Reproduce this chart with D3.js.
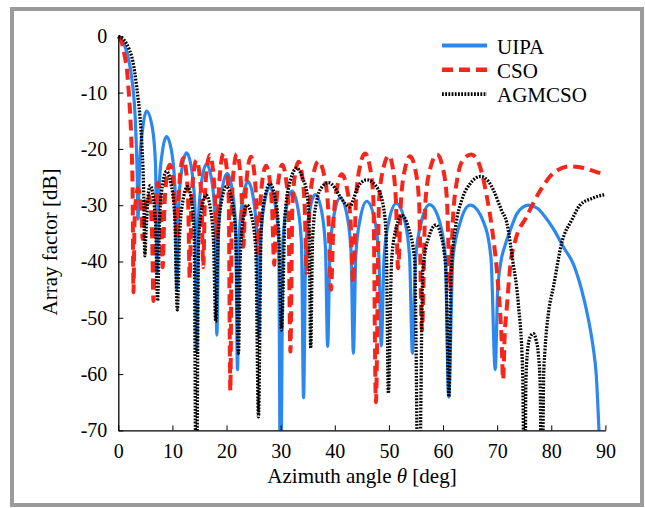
<!DOCTYPE html>
<html>
<head>
<meta charset="utf-8">
<script src="https://cdn.jsdelivr.net/npm/d3@7"></script>
<style>
  body { margin: 0; background: #fff; }
  svg { display: block; }
  text { font-family: "Liberation Serif", "Times New Roman", serif; fill: #000; }
</style>
</head>
<body>
<svg id="chart" width="645" height="508"></svg>
<script>
// axis ticks
const xTicks = [0, 10, 20, 30, 40, 50, 60, 70, 80, 90]
const yTicks = [0, -10, -20, -30, -40, -50, -60, -70]
const yTickLabels = ['0', '-10', '-20', '-30', '-40', '-50', '-60', '-70']
const seriesNames = ['UIPA', 'CSO', 'AGMCSO']

// [azimuth deg, array factor dB]
const uipa = [
  [0, 0], [1, -1.2], [2, -4.5], [2.5, -7.5], [2.8, -10], [3.1, -14], [3.35, -20], [3.52, -26], [3.62, -32.5],
  [3.94, -22.8], [4.52, -16.3], [5.2, -13.3], [6.3, -16.3], [6.88, -22.8], [7.2, -42],
  [7.52, -27.3], [8.1, -20.8], [8.9, -17.8], [9.91, -20.8], [10.49, -27.3], [10.81, -45],
  [11.14, -30.2], [11.73, -23.7], [12.6, -20.7], [13.56, -23.7], [14.15, -30.2], [14.48, -56],
  [14.82, -32.2], [15.41, -25.7], [16.3, -22.7], [17.28, -25.7], [17.87, -32.2], [18.21, -53.1],
  [18.55, -33.9], [19.16, -27.4], [20.1, -24.4], [21.07, -27.4], [21.68, -33.9], [22.02, -59.2],
  [22.37, -35.3], [23.0, -28.8], [23.95, -25.8], [24.96, -28.8], [25.59, -35.3], [25.94, -53.4],
  [26.31, -36.3], [26.96, -29.8], [27.95, -26.8], [28.98, -29.8], [29.63, -36.3], [30.0, -90],
  [30.38, -37], [31.06, -30.5], [32.1, -27.5], [33.17, -30.5], [33.85, -37], [34.23, -64.2],
  [34.63, -37.6], [35.34, -31.1], [36.4, -28.1], [37.57, -31.1], [38.28, -37.6], [38.68, -55.1],
  [39.11, -38.2], [39.87, -31.7], [41.0, -28.7], [42.24, -31.7], [43.0, -38.2], [43.43, -56.3],
  [43.89, -38.8], [44.72, -32.3], [45.9, -29.3], [47.3, -32.3], [48.13, -38.8], [48.59, -55],
  [49.11, -39.2], [50.03, -32.7], [51.35, -29.7], [52.9, -32.7], [53.82, -39.2], [54.34, -56.3],
  [54.94, -39.4], [56.02, -32.9], [57.5, -29.9], [59.36, -32.9], [60.44, -39.4], [61.04, -64.1],
  [61.81, -39.5], [63.19, -33], [65.0, -30], [67.49, -33], [68.87, -39.5], [69.64, -59.2],
  [70.1, -45], [70.7, -40], [71.5, -37], [72.4, -34.5], [73.8, -31.3], [75.8, -30], [77.5, -30.6],
  [78.8, -32], [80.4, -34.2], [82.3, -37.5], [84.1, -40.5], [85.6, -45], [86.8, -50], [87.7, -55],
  [88.3, -60], [88.9, -72]
]

const cso = [
  [0, 0], [0.6, -1], [1.2, -3.6], [1.6, -6], [1.9, -9.5], [2.2, -14], [2.45, -19.6], [2.65, -28], [2.8, -45.5],
  [3.0, -33], [3.31, -28.5], [3.65, -27], [3.99, -28.5], [4.3, -32], [4.5, -36],
  [4.74, -33], [5.1, -29.2], [5.5, -28], [5.9, -29.5], [6.26, -36], [6.5, -47],
  [6.7, -34], [7.0, -28], [7.35, -26], [7.7, -28], [8.0, -34], [8.2, -41],
  [8.51, -30.8], [8.98, -24.8], [9.5, -22.8], [10.02, -24.8], [10.49, -30.8], [10.8, -36],
  [11.09, -29.6], [11.52, -23.6], [12.0, -21.6], [12.48, -23.6], [12.91, -29.6], [13.2, -43],
  [13.5, -30], [13.95, -24], [14.45, -22], [14.95, -24], [15.4, -30], [15.7, -41],
  [15.99, -29.1], [16.42, -23.1], [16.9, -21.1], [17.42, -23.1], [17.89, -29.1], [18.2, -36],
  [18.5, -28.8], [18.95, -22.8], [19.45, -20.8], [19.95, -22.8], [20.4, -28.8], [20.7, -63],
  [20.99, -28.9], [21.42, -22.9], [21.9, -20.9], [22.38, -22.9], [22.81, -28.9], [23.1, -37.4],
  [23.44, -29.4], [23.94, -23.4], [24.5, -21.4], [25.02, -23.4], [25.49, -29.4], [25.8, -38.5],
  [26.16, -31], [26.7, -25], [27.3, -23], [27.9, -25], [28.44, -31], [28.8, -40.6],
  [29.16, -30.8], [29.7, -24.8], [30.3, -22.8], [30.9, -24.8], [31.44, -30.8], [31.8, -56],
  [32.16, -30.3], [32.7, -24.3], [33.3, -22.3], [33.9, -24.3], [34.44, -30.3], [34.8, -42],
  [35.33, -30.2], [36.12, -24.2], [37.0, -22.2], [37.92, -24.2], [38.75, -30.2], [39.3, -45],
  [39.78, -32.5], [40.5, -26.5], [41.3, -24.5], [42.14, -26.5], [42.9, -32.5], [43.4, -43.8],
  [43.93, -28.8], [44.72, -22.8], [45.6, -20.8], [46.4, -22.8], [47.12, -28.8], [47.6, -65],
  [48.18, -29.2], [49.04, -23.2], [50.0, -21.2], [50.68, -23.2], [51.29, -29.2], [51.7, -41.2],
  [52.23, -29.3], [53.02, -23.3], [53.9, -21.3], [54.78, -23.3], [55.57, -29.3], [56.1, -52.2],
  [56.77, -29], [57.78, -23], [58.9, -21], [59.86, -23], [60.72, -29], [61.3, -45],
  [61.8, -33], [62.6, -25.5], [63.8, -21.8], [65.2, -21], [66.5, -22.3], [68.1, -28.5], [69.0, -33.8],
  [70.2, -44.5], [70.8, -53.4], [71.1, -61],
  [71.4, -53], [71.8, -48], [72.4, -41], [73.5, -35.8], [75.3, -32.3], [77.9, -27.5], [80.4, -24.3],
  [83.5, -23.1], [86, -23.4], [88, -24], [90, -24.6]
]

const agmcso = [
  [0, 0], [1, -0.6], [2, -2.3], [2.7, -4.5], [3.4, -9], [4.0, -14.3], [4.4, -20], [4.7, -28], [4.9, -39],
  [5.14, -34.5], [5.5, -28.5], [5.9, -26.5], [6.44, -28.5], [6.93, -34.5], [7.25, -47],
  [7.65, -32], [8.24, -26], [8.9, -24], [9.7, -26], [10.42, -32], [10.9, -48.6],
  [11.36, -34.7], [12.04, -28.7], [12.8, -26.7], [13.44, -28.7], [14.02, -34.7], [14.4, -90],
  [14.84, -36.2], [15.51, -30.2], [16.25, -28.2], [16.95, -30.2], [17.58, -36.2], [18.0, -50.7],
  [18.48, -34.7], [19.2, -28.7], [20.0, -26.7], [20.88, -28.7], [21.67, -34.7], [22.2, -56.3],
  [22.58, -38], [23.16, -32], [23.8, -30], [24.64, -32], [25.4, -38], [25.9, -67.6],
  [26.4, -34.2], [27.16, -28.2], [28.0, -26.2], [28.86, -28.2], [29.63, -34.2], [30.15, -52.2],
  [30.83, -31.4], [31.86, -25.4], [33.0, -23.4], [34.12, -25.4], [34.8, -27.5], [35.25, -33], [35.55, -55.4],
  [35.9, -36], [36.6, -29.5], [37.6, -26.8], [38.8, -26], [40.0, -26.9], [41.0, -28.5], [42.8, -30.3],
  [43.5, -28.8], [44.3, -26.7], [45.9, -25.5], [47.7, -26.7], [49.0, -30.3], [49.5, -36], [49.9, -63.4],
  [50.5, -39.8], [51.4, -33.8], [52.4, -31.8], [53.54, -33.8], [54.76, -39.8], [55.5, -90],
  [56.27, -41.5], [57.42, -35.5], [58.7, -33.5], [59.66, -35.5], [60.52, -41.5], [61.1, -64],
  [61.5, -42], [62.3, -34], [63.5, -29], [65.0, -26.2], [66.9, -24.9], [68.5, -25.9], [69.3, -27.3],
  [70.8, -30.9], [71.8, -33.2], [72.9, -40], [73.9, -47.4], [74.7, -59.3], [75.1, -90],
  [75.3, -62], [75.6, -56], [76.1, -53.4], [76.7, -52.8], [77.2, -54], [77.6, -56.3], [77.95, -62], [78.25, -90],
  [78.6, -60], [78.8, -56.3], [79.5, -49], [80.4, -44.5], [81.9, -36.8], [83.8, -32.6], [85.3, -30],
  [87.5, -28.8], [90, -28.1]
]

const serif = '"Liberation Serif", "Times New Roman", serif'
const svg = d3.select('#chart')

// grey frame round the figure
svg.append('rect')
  .attr('x', 12).attr('y', 9)
  .attr('width', 630).attr('height', 496)
  .attr('fill', 'none')
  .attr('stroke', '#9b9b9b')
  .attr('stroke-width', 4)

const x = d3.scaleLinear().domain([0, 90]).range([118.3, 605.4])
const y = d3.scaleLinear().domain([-70, 0]).range([430.4, 36.3])

svg.append('clipPath').attr('id', 'plot-clip')
  .append('rect')
  .attr('x', 116).attr('y', 28)
  .attr('width', 492).attr('height', 402.4)

const line = d3.line()
  .x(d => x(d[0]))
  .y(d => y(d[1]))
  .curve(d3.curveMonotoneX)

const styles = [
  { data: uipa, color: '#2c87ef', width: 3.2, dash: null },
  { data: cso, color: '#f7261b', width: 4, dash: '11,6' },
  { data: agmcso, color: '#000', width: 3.3, dash: '1.8,1.4' }
]

const plot = svg.append('g').attr('clip-path', 'url(#plot-clip)')
styles.forEach(s => {
  plot.append('path')
    .datum(s.data)
    .attr('d', line)
    .attr('fill', 'none')
    .attr('stroke', s.color)
    .attr('stroke-width', s.width)
    .attr('stroke-dasharray', s.dash)
})

// axes, ticks point inwards
const xAxis = svg.append('g')
  .attr('transform', 'translate(0,' + y(-70) + ')')
  .call(d3.axisBottom(x).tickValues(xTicks).tickSizeInner(-5).tickSizeOuter(0).tickPadding(13))
const yAxis = svg.append('g')
  .attr('transform', 'translate(' + x(0) + ',0)')
  .call(d3.axisLeft(y).tickValues(yTicks).tickSizeInner(-5).tickSizeOuter(0).tickPadding(11)
    .tickFormat((d, i) => yTickLabels[i]))

;[xAxis, yAxis].forEach(ax => {
  ax.attr('font-family', serif).attr('font-size', 20)
  ax.select('.domain').attr('stroke', '#000').attr('stroke-width', 1.3)
  ax.selectAll('.tick line').attr('stroke', '#000').attr('stroke-width', 1)
  ax.selectAll('.tick text')
    .attr('font-family', serif)
    .style('font-family', serif)
    .style('font-size', '20px')
    .attr('fill', '#000')
})

// axis titles
const xTitle = svg.append('text')
  .attr('x', 362).attr('y', 483)
  .attr('text-anchor', 'middle')
  .style('font-size', '21px')
xTitle.append('tspan').text('Azimuth angle ')
xTitle.append('tspan').style('font-style', 'italic').text('θ')
xTitle.append('tspan').text(' [deg]')

svg.append('text')
  .attr('transform', 'translate(57,242) rotate(-90)')
  .attr('text-anchor', 'middle')
  .style('font-size', '21px')
  .text('Array factor [dB]')

// legend
const legend = svg.append('g')
styles.forEach((s, i) => {
  const ly = 45.5 + i * 24.3
  legend.append('line')
    .attr('x1', 442).attr('x2', 487)
    .attr('y1', ly).attr('y2', ly)
    .attr('stroke', s.color)
    .attr('stroke-width', s.width + 0.6)
    .attr('stroke-dasharray', s.dash)
  legend.append('text')
    .attr('x', 497).attr('y', ly + 8)
    .style('font-size', '21px')
    .text(seriesNames[i])
})
</script>
</body>
</html>
